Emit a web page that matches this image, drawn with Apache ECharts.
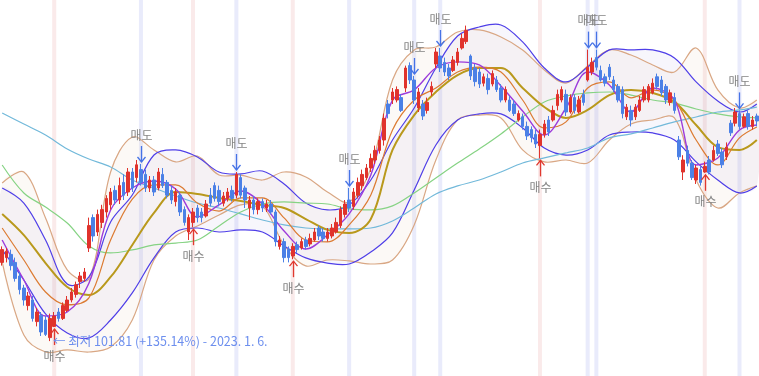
<!DOCTYPE html>
<html>
<head>
<meta charset="utf-8">
<script src="https://cdn.jsdelivr.net/npm/echarts@6/dist/echarts.min.js"></script>
<style>
  html, body { margin: 0; padding: 0; background: #fff; }
  #chart { width: 759px; height: 376px; }
</style>
</head>
<body>
<div id="chart"></div>
<script>
// daily candles, one entry per trading day (left to right)
const opens = [
  151, 154, 156, 151, 142.5, 135, 124, 127.5, 114, 118,
  115, 104, 111, 120, 116, 121, 127.5, 131, 139, 141,
  160, 179, 170, 176, 182.5, 187, 196, 190, 201, 195,
  207.5, 204, 209, 206, 197.5, 202.5, 197.5, 206, 201, 196,
  189, 193, 184, 170, 176, 185, 182.5, 180, 193, 199,
  196, 188, 191, 196, 193, 204, 197.5, 185, 190, 184,
  189, 185, 187.5, 182.5, 161, 164, 159, 155, 162, 160,
  165, 162.5, 165, 172.5, 170, 166, 167.5, 170, 174, 181,
  190, 186, 193, 199, 204, 210, 215, 221, 227.5, 250,
  252.5, 252.5, 254, 260, 274, 265, 247.5, 250, 246, 257.5,
  275, 280, 276, 272.5, 271, 276, 285, 289, 280, 272.5,
  270, 263, 266, 262.5, 265, 260, 252.5, 252.5, 250, 240,
  242, 236, 234, 231, 224, 231, 240, 240, 249, 252.5,
  256, 245, 254, 245, 256, 265, 270, 279, 271, 267,
  273, 265, 261, 259, 242, 246, 242, 246, 252.5, 252.5,
  257, 267, 265, 261, 251, 254, 227.5, 207.5, 221, 213,
  202.5, 209, 207.5, 215, 215, 225, 220, 217, 238, 238,
  244, 236, 244, 236, 242.5
];
const closes = [
  159, 158, 149, 141, 134, 127.5, 130, 116, 120, 107.5,
  106, 116, 117.5, 116, 124, 127.5, 132.5, 137, 142.5, 145,
  174, 167.5, 181, 184, 191, 195, 190, 199, 193, 207.5,
  197.5, 212, 201, 197.5, 202.5, 195, 207.5, 199, 193, 190,
  195, 182.5, 176, 179, 182.5, 179, 179, 187.5, 188, 191,
  189, 192.5, 195, 191, 206, 193, 190, 190, 184, 189,
  185, 187.5, 182.5, 164, 165, 154, 154, 161, 159, 164,
  161, 166, 170, 167.5, 166, 170, 172.5, 176, 184, 187.5,
  185, 195, 201, 206, 210, 216, 221, 227.5, 241, 244,
  257.5, 259, 246, 272.5, 265, 252.5, 257.5, 242.5, 251, 261,
  282.5, 272.5, 270, 267.5, 277.5, 282.5, 291, 296, 267.5, 264,
  262.5, 267, 259, 269, 259, 252.5, 259, 246, 244, 244,
  236, 230, 229, 225, 231, 237.5, 232.5, 246, 256, 259,
  245, 254, 246, 252.5, 251, 273, 276, 273, 265, 263,
  267, 259, 252.5, 244, 248, 240, 248, 252.5, 259, 261,
  263, 261, 257, 252.5, 257, 246, 217, 215, 213, 204,
  210, 201, 211, 207.5, 221, 219, 212, 223, 232, 245,
  236, 242, 236, 240, 239.4
];
const lows = [
  149, 151, 146, 139, 131, 124, 121, 114, 111, 105,
  105, 101.81, 110.6, 114, 115, 120, 126, 129, 135, 139,
  157.5, 164, 167.5, 172.5, 179, 184, 187, 187.5, 190, 192.5,
  195, 201, 199, 195, 195, 192.5, 196, 197.5, 191, 187.5,
  186, 180, 174, 165, 173, 176, 176, 179, 186, 189,
  186, 186, 189, 189, 191, 191, 185, 177.5, 181, 181,
  182.5, 182.5, 181, 161, 159, 151, 151, 153, 157, 159,
  159, 161, 164, 165, 164, 164, 166, 169, 172.5, 179,
  182.5, 184, 191, 196, 202.5, 207.5, 212.5, 219, 224, 241,
  250, 251, 245, 257.5, 262.5, 250, 245, 240, 244, 255,
  272.5, 270, 267.5, 265, 270, 274, 284, 287.5, 265, 261,
  260, 261, 256, 261, 257.5, 251, 251, 245, 242.5, 239,
  234, 227.5, 226, 222.5, 216, 229, 230, 239, 246, 251,
  242.5, 244, 244, 244, 249, 264, 268, 271, 264, 261,
  265, 257.5, 251, 241, 240, 236, 240, 245, 251, 251,
  256, 259, 255, 250, 249, 244, 215, 202.5, 211, 202.5,
  200, 199, 207, 206, 214, 217.5, 210, 215, 230, 236,
  234, 235, 234, 234, 236
];
const highs = [
  161, 160, 159, 154, 145, 137, 132.5, 130, 122.5, 120,
  117.5, 119, 120, 122.5, 126, 130, 135, 139, 145, 147.5,
  179, 181, 184, 187, 193, 197.5, 199, 204, 206, 210,
  210, 215, 212.5, 209, 205, 205, 210, 210, 202.5, 199,
  197.5, 195, 186, 181, 185, 187, 185, 190, 197.5, 201,
  199, 195, 197.5, 199, 207.5, 206, 199, 192.5, 192.5, 191,
  191, 190, 190, 184, 167.5, 166, 161, 163, 164, 166,
  167, 169, 172.5, 174, 172.5, 172.5, 175, 179, 186, 190,
  197.5, 197.5, 204, 209, 212.5, 219, 224, 230, 244, 252.5,
  260, 261, 256, 274, 276, 267.5, 260, 252.5, 254, 264,
  285, 285, 279, 275, 280, 285, 294, 299, 281, 275,
  272.5, 269, 269, 271, 267.5, 262.5, 261, 255, 252.5, 246,
  244, 239, 236, 234, 234, 240, 242.5, 249, 259, 261,
  259, 256, 256, 255, 259, 284, 279, 284, 274, 269,
  275, 267.5, 262.5, 261, 250, 249, 250, 255, 261, 262.5,
  266, 269, 267.5, 262.5, 259, 257, 230, 218, 224, 215,
  212, 211, 214, 217.5, 224, 227.5, 222.5, 226, 240, 247.5,
  246, 244, 246, 242.5, 244
];

// indicator lines, read every 5th day
const lineAt = [0, 5, 10, 15, 20, 25, 30, 35, 40, 45, 50, 55, 60, 65, 70, 75, 80, 85,
  90, 95, 100, 105, 110, 115, 120, 125, 130, 135, 140, 145, 150, 155, 160, 165, 170, 174];
const ma5 = [165, 140, 117.5, 120, 138, 183.8, 197.5, 201.9, 196.9, 179.4, 186.9, 195.6,
  187.5, 170.6, 159.4, 168.1, 181.3, 205.6, 252.5, 258.8, 272.5, 276.3, 274.4, 261.3,
  245.6, 230.6, 247.5, 270, 261.9, 245, 260, 252.5, 211.9, 216.3, 233.8, 236.9];
const ma10 = [172.5, 152.5, 132.5, 124.4, 128.8, 165, 190.6, 199.4, 199.4, 188.1, 183.1, 191.3,
  191.3, 178.8, 165, 163.8, 174.4, 193.1, 233.8, 252.5, 260, 270, 273.1, 270,
  252.5, 235, 238.8, 260, 263.8, 253.8, 258.8, 252.5, 227.5, 211.9, 228.8, 235.6];
const ma20 = [181.3, 168.1, 150.6, 135.6, 130.6, 141.9, 161.9, 181.9, 195, 193.8, 191.3, 189.4,
  186.9, 185, 178.1, 171.3, 169.4, 178.1, 221.3, 243.1, 257.5, 268.1, 272.5, 272.5,
  260, 248.1, 241.3, 246.3, 255.6, 258.8, 256.9, 251.3, 236.9, 223.1, 221.3, 227.5];
const ma60 = [211.9, 194.4, 185.6, 175.6, 161.3, 156.9, 158.8, 161.9, 163.1, 165, 173.8, 182.5,
  187.5, 188.8, 188.1, 187.5, 184.4, 183.8, 186.3, 194.4, 203.8, 213.1, 221.9, 231.3,
  241.9, 251.3, 255, 256.9, 257.5, 255.6, 252.5, 250.6, 246.9, 243.8, 241.9, 241.3];
const ma120 = [244.4, 237.5, 230.6, 221.9, 215.6, 210.6, 202.5, 197.5, 192.5, 188.1, 185, 181.3,
  177.5, 174.4, 172.5, 171.9, 171.9, 172.5, 176.9, 185, 193.8, 198.8, 202.5, 207.5,
  213.1, 216.3, 219.4, 222.5, 228.8, 231.3, 235, 238.8, 241.9, 245, 246.3, 248.1];
const bbUpper = [197.5, 188.1, 165, 137.5, 141.9, 176.3, 193.1, 218.1, 221.3, 216.9, 207.5, 206.3,
  208.1, 200, 188.1, 183.8, 186.9, 202.5, 227.5, 247.5, 272.5, 292.5, 298.1, 299.4,
  288.8, 272.5, 263.8, 273.1, 283.8, 283.8, 283.8, 278.8, 263.8, 251.9, 245, 250];
const bbLower = [158.8, 140, 118.8, 106.9, 103.8, 115, 131.9, 153.8, 170, 172.5, 170, 171.3,
  170, 161.3, 153.8, 150.6, 150, 157.5, 169.4, 196.3, 224.4, 240, 243.8, 243.8,
  235, 222.5, 218.1, 221.3, 230.6, 232.5, 231.9, 227.5, 213.8, 202.5, 194.4, 198.8];
const envUpper = [200.6, 207.5, 178.8, 146.3, 140.6, 207.5, 229.4, 221.3, 213.8, 217.5, 205.6, 205.6,
  202.5, 207.5, 204.4, 195, 188.8, 210, 265, 283.8, 285.6, 295, 296.3, 291.9,
  283.8, 271.3, 263.1, 273.8, 283.8, 280.6, 274.4, 270, 285, 258.8, 247.5, 252.5];
const envLower = [151.3, 105.6, 95, 96.3, 95, 98.1, 115, 152.5, 167.5, 173.8, 180.6, 186.9,
  186.3, 161.9, 148.8, 152.5, 151.9, 150, 152.5, 174.4, 215, 240, 243.1, 241.3,
  221.3, 213.8, 215, 213.1, 227.5, 237.5, 240, 241.3, 202.5, 185, 194.4, 198.8];

// trade signals (day index)
const sellAt = [32, 54, 80, 95, 101, 135, 137, 170];
const buyAt = [12, 44, 67, 124, 162];
const lowText = '← 최저 101.81 (+135.14%) - 2023. 1. 6.';

const N = opens.length;
const SMOOTH = 0.35;
const FONT = '"Noto Sans CJK KR", "Noto Sans", sans-serif';

const pair = vals => vals.map((v, k) => [lineAt[k], v]);
const candles = opens.map((o, i) => [i, o, closes[i], lows[i], highs[i]]);
const lowVal = Math.min(...lows);
const lowIdx = lows.indexOf(lowVal);

const curve = (name, vals, color, width) => ({
  name, type: 'line', data: pair(vals), smooth: SMOOTH, symbol: 'none',
  lineStyle: { color, width }, silent: true, z: 3
});

// band = shaded polygon between two edges, edges drawn with the same smoothing
const band = (lower, upper, fill, stroke) => ({
  type: 'custom', data: [[0, 0]], silent: true, z: 2,
  renderItem: (params, api) => {
    const up = lineAt.map((x, k) => api.coord([x, upper[k]]));
    const lo = lineAt.map((x, k) => api.coord([x, lower[k]]));
    return {
      type: 'group',
      children: [
        { type: 'polygon', z2: 0, shape: { points: up.concat(lo.slice().reverse()), smooth: SMOOTH },
          style: { fill } },
        { type: 'polyline', z2: 1, shape: { points: up, smooth: SMOOTH },
          style: { stroke, lineWidth: 1.2, fill: null } },
        { type: 'polyline', z2: 1, shape: { points: lo, smooth: SMOOTH },
          style: { stroke, lineWidth: 1.2, fill: null } }
      ]
    };
  }
});

const signalBars = sellAt.map(i => [i, 200, 1]).concat(buyAt.map(i => [i, 200, 0]));
const signalMarks = sellAt.map(i => [i, highs[i], 1]).concat(buyAt.map(i => [i, lows[i], 0]));

const renderBar = (params, api) => {
  const x = api.coord([api.value(0), api.value(1)])[0];
  const cs = params.coordSys;
  return {
    type: 'rect',
    shape: { x: x - 2, y: cs.y, width: 4, height: cs.height },
    style: { fill: api.value(2) ? 'rgba(200,205,245,0.4)' : 'rgba(240,195,195,0.35)' }
  };
};

const renderMark = (params, api) => {
  const p = api.coord([api.value(0), api.value(1)]);
  const x = Math.round(p[0]) + 0.5;
  const sell = api.value(2) === 1;
  const color = sell ? '#4673e6' : '#e0392f';
  let tip, tail, textY, head;
  if (sell) {
    tip = p[1] - 2; tail = tip - 16; textY = tail - 11;
    head = [[x - 4, tip - 5], [x, tip], [x + 4, tip - 5]];
  } else {
    tip = p[1] + 2; tail = tip + 16; textY = tail + 11;
    head = [[x - 4, tip + 5], [x, tip], [x + 4, tip + 5]];
  }
  return {
    type: 'group',
    children: [
      { type: 'line', shape: { x1: x, y1: tail, x2: x, y2: tip }, style: { stroke: color, lineWidth: 1.3 } },
      { type: 'polyline', shape: { points: head }, style: { stroke: color, lineWidth: 1.3, fill: null } },
      { type: 'text', x: x, y: textY,
        style: { text: sell ? '매도' : '매수', fill: '#858585', font: '12px ' + FONT,
          align: 'center', verticalAlign: 'middle' } }
    ]
  };
};

const chart = echarts.init(document.getElementById('chart'));
chart.setOption({
  animation: false,
  textStyle: { fontFamily: FONT },
  grid: { left: 0, right: 0, top: 0, bottom: 0 },
  xAxis: { type: 'value', min: -0.5, max: N - 0.5, show: false },
  yAxis: { type: 'value', min: 80, max: 315, show: false },
  series: [
    { type: 'custom', data: signalBars, renderItem: renderBar, silent: true, z: 0 },
    band(envLower, envUpper, 'rgba(232,200,175,0.11)', '#d9a784'),
    band(bbLower, bbUpper, 'rgba(150,135,215,0.075)', '#4f3fe8'),
    curve('MA120', ma120, '#72b9da', 1.2),
    curve('MA60', ma60, '#86d384', 1.2),
    curve('MA20', ma20, '#b9991c', 2),
    curve('MA10', ma10, '#dc7b32', 1.2),
    curve('MA5', ma5, '#9c3bdb', 1.4),
    {
      type: 'candlestick', data: candles, barWidth: 3, z: 4,
      itemStyle: {
        color: '#e0332c', color0: '#4b80e6',
        borderColor: '#e0332c', borderColor0: '#4b80e6', borderWidth: 1
      },
      markPoint: {
        symbol: 'circle', symbolSize: 0, silent: true,
        data: [{ coord: [lowIdx, lowVal] }],
        label: {
          show: true, position: 'right', distance: 3, formatter: lowText,
          color: '#6d8fee', fontSize: 12.5, fontFamily: FONT
        }
      }
    },
    { type: 'custom', data: signalMarks, renderItem: renderMark, silent: true, z: 5 }
  ]
});
</script>
</body>
</html>
